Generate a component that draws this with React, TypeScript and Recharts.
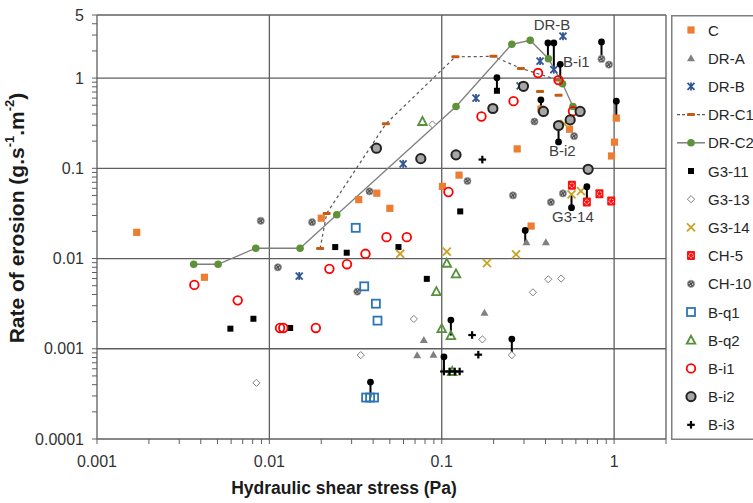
import React from "react";
import {
  ScatterChart,
  Scatter,
  XAxis,
  YAxis,
  ReferenceLine,
  ReferenceDot,
  Label,
} from "recharts";

type Pt = [number, number];

// shear stress (Pa), erosion rate (g/s/m2)
const seriesC: Pt[] = [
  [0.0017, 0.0195], [0.0042, 0.0062], [0.02, 0.028], [0.033, 0.045], [0.042, 0.053],
  [0.05, 0.036], [0.101, 0.063], [0.126, 0.084], [0.274, 0.164], [0.551, 0.271],
  [1.03, 0.36], [1.005, 0.195], [0.966, 0.137], [0.33, 0.0229], [0.376, 0.453],
];
const seriesDRA: Pt[] = [
  [0.0787, 0.00125], [0.072, 0.00085], [0.0895, 0.00086], [0.31, 0.0152], [0.402, 0.0152],
  [0.177, 0.0025],
];
const seriesDRB: Pt[] = [
  [0.0597, 0.112], [0.0149, 0.0064], [0.505, 2.91], [0.372, 1.545], [0.447, 1.24],
  [0.285, 0.82], [0.158, 0.6],
];
const seriesDRC1: Pt[] = [
  [0.0197, 0.0129], [0.0215, 0.0316], [0.0474, 0.311], [0.12, 1.72], [0.1995, 1.74],
  [0.288, 1.28], [0.476, 0.95],
];
const seriesDRC1Extra: Pt[] = [[0.372, 0.71], [0.476, 0.645]];
const seriesDRC2: Pt[] = [
  [0.00364, 0.00864], [0.00504, 0.00864], [0.00834, 0.013], [0.01507, 0.013], [0.0246, 0.0306],
  [0.121, 0.485], [0.255, 2.37], [0.326, 2.62], [0.416, 1.64], [0.502, 0.864], [0.577, 0.485],
];
const seriesG311: Pt[] = [
  [0.00594, 0.00167], [0.00808, 0.00215], [0.0132, 0.0017], [0.0241, 0.0134], [0.0281, 0.0116],
  [0.0561, 0.0134], [0.0819, 0.00595], [0.128, 0.0333], [0.209, 0.723],
];
const seriesG313: Pt[] = [
  [0.00841, 0.000419], [0.0339, 0.00085], [0.0689, 0.00214], [0.0883, 0.306], [0.172, 0.00127],
  [0.255, 0.00085], [0.338, 0.00422], [0.415, 0.00589], [0.493, 0.006],
];
const seriesG314: Pt[] = [
  [0.0574, 0.0113], [0.107, 0.0119], [0.183, 0.0089], [0.27, 0.0111], [0.566, 0.0514],
  [0.642, 0.056], [0.515, 0.31],
];
const seriesCH5: Pt[] = [[0.569, 0.0648], [0.695, 0.0422], [0.822, 0.0523], [0.962, 0.0433]];
const seriesCH10: Pt[] = [
  [0.00891, 0.0262], [0.0112, 0.008], [0.0177, 0.0253], [0.0381, 0.0555], [0.0324, 0.0043],
  [0.141, 0.0723], [0.259, 0.0501], [0.43, 0.0422], [0.505, 0.0527], [0.345, 0.33],
  [0.586, 0.227], [0.845, 1.63], [0.933, 1.41],
];
const seriesBq1: Pt[] = [
  [0.0317, 0.0219], [0.0355, 0.00492], [0.0415, 0.00316], [0.0424, 0.00205],
  [0.0364, 0.000288], [0.0384, 0.000288], [0.0405, 0.000288],
];
const seriesBq2: Pt[] = [
  [0.0773, 0.33], [0.107, 0.00887], [0.121, 0.00676], [0.0931, 0.0043], [0.1, 0.00167],
  [0.113, 0.0014], [0.115, 0.00056],
];
const seriesBi1: Pt[] = [
  [0.00367, 0.0051], [0.00655, 0.00344], [0.01153, 0.0017], [0.01205, 0.0017], [0.0186, 0.0017],
  [0.0223, 0.00769], [0.0282, 0.00865], [0.0361, 0.01128], [0.0478, 0.01725], [0.0627, 0.01725],
  [0.1094, 0.0546], [0.17, 0.375], [0.261, 0.555], [0.362, 1.137], [0.476, 0.95], [0.577, 0.43],
];
const seriesBi2: Pt[] = [
  [0.0418, 0.167], [0.0756, 0.128], [0.121, 0.141], [0.298, 0.81], [0.198, 0.46],
  [0.389, 0.427], [0.556, 0.344], [0.476, 0.298], [0.635, 0.427], [0.707, 0.0975],
];
const seriesBi3: Pt[] = [
  [0.103, 0.00056], [0.111, 0.00056], [0.119, 0.00056], [0.127, 0.00056], [0.15, 0.00142],
  [0.163, 0.00086], [0.172, 0.125],
];

// replicate ranges: x, value at the dot, value at the paired marker
const stems: [number, number, number][] = [
  [0.209, 1.008, 0.723], [0.413, 2.45, 1.64], [0.447, 2.45, 1.24], [0.487, 1.42, 0.95],
  [0.376, 0.574, 0.456], [0.845, 2.51, 1.63], [0.476, 0.196, 0.298], [1.03, 0.555, 0.36],
  [0.695, 0.0626, 0.0422], [0.566, 0.0366, 0.0514], [0.305, 0.0205, 0.0152],
  [0.113, 0.00208, 0.0014], [0.103, 0.000815, 0.00056], [0.0386, 0.000427, 0.000288],
  [0.255, 0.00128, 0.00085],
];

const notes: { text: string; x: number; y: number }[] = [
  { text: "DR-B", x: 0.436, y: 3.88 },
  { text: "B-i1", x: 0.603, y: 1.52 },
  { text: "B-i2", x: 0.5, y: 0.155 },
  { text: "G3-14", x: 0.577, y: 0.029 },
];

const legendNames = [
  "C", "DR-A", "DR-B", "DR-C1", "DR-C2", "G3-11", "G3-13", "G3-14",
  "CH-5", "CH-10", "B-q1", "B-q2", "B-i1", "B-i2", "B-i3",
];

const xMajor = [0.001, 0.01, 0.1, 1];
const yMajor = [0.0001, 0.001, 0.01, 0.1, 1, 5];

const minorTicks = (decades: number[]) =>
  decades.flatMap((d) => [1, 2, 3, 4, 5, 6, 7, 8, 9].map((m) => +(m * d).toPrecision(3)));
const xTicks = [...minorTicks([0.001, 0.01, 0.1]), 1, 2];
const yTicks = [...minorTicks([0.0001, 0.001, 0.01, 0.1]), 1, 2, 3, 4, 5];

const FONT = "'Liberation Sans', Arial, sans-serif";
const GRID = "#5f5f5f";

const toData = (pts: Pt[]) => pts.map(([x, y]) => ({ x, y }));

function Marker({ kind, cx, cy }: { kind: string; cx: number; cy: number }) {
  switch (kind) {
    case "C":
      return <rect x={cx - 3.6} y={cy - 3.6} width={7.2} height={7.2} fill="#ED7D31" />;
    case "DR-A":
      return <path d={`M${cx},${cy - 4} L${cx + 4},${cy + 3} L${cx - 4},${cy + 3} Z`} fill="#808080" />;
    case "DR-B":
      return (
        <g stroke="#2F5597" strokeWidth={1.8}>
          <line x1={cx - 3.5} y1={cy - 3.5} x2={cx + 3.5} y2={cy + 3.5} />
          <line x1={cx + 3.5} y1={cy - 3.5} x2={cx - 3.5} y2={cy + 3.5} />
          <line x1={cx} y1={cy - 4} x2={cx} y2={cy + 4} />
        </g>
      );
    case "DR-C1":
      return <rect x={cx - 4} y={cy - 1.5} width={8} height={3} rx={1} fill="#C55A11" />;
    case "DR-C2":
      return <circle cx={cx} cy={cy} r={3.8} fill="#5E9238" />;
    case "G3-11":
      return <rect x={cx - 3} y={cy - 3} width={6} height={6} fill="#000" />;
    case "G3-13":
      return (
        <path
          d={`M${cx},${cy - 3.6} L${cx + 3.6},${cy} L${cx},${cy + 3.6} L${cx - 3.6},${cy} Z`}
          fill="#fff"
          stroke="#808080"
          strokeWidth={1}
        />
      );
    case "G3-14":
      return (
        <g stroke="#C9A227" strokeWidth={1.8}>
          <line x1={cx - 4} y1={cy - 4} x2={cx + 4} y2={cy + 4} />
          <line x1={cx + 4} y1={cy - 4} x2={cx - 4} y2={cy + 4} />
        </g>
      );
    case "CH-5":
      return (
        <g>
          <rect x={cx - 4} y={cy - 4.5} width={8} height={9} rx={1} fill="#FF1010" />
          <circle cx={cx} cy={cy} r={2.2} fill="none" stroke="#fff" strokeWidth={1} strokeDasharray="1.5 1" />
        </g>
      );
    case "CH-10":
      return (
        <g>
          <circle cx={cx} cy={cy} r={3.6} fill="#505050" stroke="#a0a0a0" strokeWidth={0.8} />
          <circle cx={cx} cy={cy} r={1.8} fill="none" stroke="#fff" strokeWidth={0.9} strokeDasharray="1.2 1.2" />
        </g>
      );
    case "B-q1":
      return <rect x={cx - 4} y={cy - 4} width={8} height={8} fill="none" stroke="#2E75B6" strokeWidth={1.8} />;
    case "B-q2":
      return (
        <path
          d={`M${cx},${cy - 4.5} L${cx + 4.3},${cy + 3.5} L${cx - 4.3},${cy + 3.5} Z`}
          fill="none"
          stroke="#55913A"
          strokeWidth={1.8}
        />
      );
    case "B-i1":
      return <circle cx={cx} cy={cy} r={4.3} fill="none" stroke="#FF0000" strokeWidth={1.8} />;
    case "B-i2":
      return <circle cx={cx} cy={cy} r={4.6} fill="#A6A6A6" stroke="#222" strokeWidth={2} />;
    case "B-i3":
      return (
        <g stroke="#000" strokeWidth={2.2}>
          <line x1={cx - 3.8} y1={cy} x2={cx + 3.8} y2={cy} />
          <line x1={cx} y1={cy - 3.8} x2={cx} y2={cy + 3.8} />
        </g>
      );
    case "stem":
      return <circle cx={cx} cy={cy} r={3.4} fill="#000" />;
    default:
      return null;
  }
}

const shapeFor = (kind: string) => (p: any) => <Marker kind={kind} cx={p.cx} cy={p.cy} />;

const plotted: { name: string; data: Pt[] }[] = [
  { name: "C", data: seriesC },
  { name: "DR-A", data: seriesDRA },
  { name: "DR-B", data: seriesDRB },
  { name: "G3-11", data: seriesG311 },
  { name: "G3-13", data: seriesG313 },
  { name: "G3-14", data: seriesG314 },
  { name: "CH-5", data: seriesCH5 },
  { name: "CH-10", data: seriesCH10 },
  { name: "B-q1", data: seriesBq1 },
  { name: "B-q2", data: seriesBq2 },
  { name: "B-i1", data: seriesBi1 },
  { name: "B-i2", data: seriesBi2 },
  { name: "B-i3", data: seriesBi3 },
];

function LegendBox() {
  return (
    <svg
      width={82}
      height={430}
      style={{ position: "absolute", left: 671, top: 15, overflow: "hidden" }}
    >
      <rect x={0.75} y={0.75} width={120} height={423.5} fill="#fff" stroke="#7f7f7f" strokeWidth={1.5} />
      {legendNames.map((name, i) => {
        const cy = 15 + i * 28.2;
        return (
          <g key={name}>
            {name === "DR-C1" && (
              <line x1={6} x2={34} y1={cy} y2={cy} stroke="#595959" strokeWidth={1.2} strokeDasharray="3 2" />
            )}
            {name === "DR-C2" && <line x1={6} x2={34} y1={cy} y2={cy} stroke="#7f7f7f" strokeWidth={1.5} />}
            <Marker kind={name} cx={20} cy={cy} />
            <text x={37} y={cy} dominantBaseline="central" fontSize={15} fontFamily={FONT} fill="#262626">
              {name}
            </text>
          </g>
        );
      })}
    </svg>
  );
}

export default function App() {
  const tickStyle = { fontSize: 16, fill: "#333", fontFamily: FONT };
  return (
    <div style={{ position: "absolute", left: 0, top: 0, width: 753, height: 503, background: "#fff" }}>
      <ScatterChart width={753} height={503} margin={{ top: 15, right: 87, bottom: 0, left: 0 }}>
        <XAxis
          type="number"
          dataKey="x"
          scale="log"
          domain={[0.001, 2]}
          allowDataOverflow
          ticks={xTicks}
          interval={0}
          tickFormatter={(v: number) => (xMajor.includes(v) ? String(v) : "")}
          tick={tickStyle}
          tickSize={5}
          tickMargin={12}
          height={64}
          stroke={GRID}
          axisLine={{ stroke: GRID, strokeWidth: 1.3 }}
          tickLine={{ stroke: GRID }}
        >
          <Label
            content={() => (
              <text x={344} y={494} textAnchor="middle" fontSize={17.5} fontWeight="bold" fontFamily={FONT} fill="#1a1a1a">
                Hydraulic shear stress (Pa)
              </text>
            )}
          />
        </XAxis>
        <YAxis
          type="number"
          dataKey="y"
          scale="log"
          domain={[0.0001, 5]}
          allowDataOverflow
          ticks={yTicks}
          interval={0}
          tickFormatter={(v: number) => (yMajor.includes(v) ? String(v) : "")}
          tick={tickStyle}
          tickSize={5}
          tickMargin={8}
          width={97}
          stroke={GRID}
          axisLine={{ stroke: GRID, strokeWidth: 1.3 }}
          tickLine={{ stroke: GRID }}
        >
          <Label
            content={() => (
              <text
                x={16}
                y={218}
                transform="rotate(-90 16 218)"
                textAnchor="middle"
                dominantBaseline="central"
                fontSize={21}
                fontWeight="bold"
                fontFamily={FONT}
                fill="#1a1a1a"
              >
                Rate of erosion (g.s
                <tspan fontSize={13} dy={-7}>-1</tspan>
                <tspan dy={7}>.m</tspan>
                <tspan fontSize={13} dy={-7}>-2</tspan>
                <tspan dy={7}>)</tspan>
              </text>
            )}
          />
        </YAxis>

        {/* decade grid and plot frame */}
        {[0.01, 0.1, 1, 2].map((v) => (
          <ReferenceLine key={"gx" + v} x={v} stroke={GRID} strokeWidth={1.3} />
        ))}
        {[0.001, 0.01, 0.1, 1, 5].map((v) => (
          <ReferenceLine key={"gy" + v} y={v} stroke={GRID} strokeWidth={1.3} />
        ))}

        <Scatter
          name="DR-C1"
          data={toData(seriesDRC1)}
          line={{ stroke: "#595959", strokeWidth: 1.2, strokeDasharray: "3 3" }}
          lineType="joint"
          shape={shapeFor("DR-C1")}
          isAnimationActive={false}
        />
        <Scatter name="DR-C1 extra" data={toData(seriesDRC1Extra)} shape={shapeFor("DR-C1")} isAnimationActive={false} />
        <Scatter
          name="DR-C2"
          data={toData(seriesDRC2)}
          line={{ stroke: "#7f7f7f", strokeWidth: 1.3 }}
          lineType="joint"
          shape={shapeFor("DR-C2")}
          isAnimationActive={false}
        />
        {plotted.map((s) => (
          <Scatter key={s.name} name={s.name} data={toData(s.data)} shape={shapeFor(s.name)} isAnimationActive={false} />
        ))}

        {stems.map(([x, y1, y2], i) => (
          <ReferenceLine
            key={"st" + i}
            segment={[{ x, y: y1 }, { x, y: y2 }]}
            stroke="#000"
            strokeWidth={2}
          />
        ))}
        <Scatter
          name="range"
          data={stems.map(([x, y]) => ({ x, y }))}
          shape={shapeFor("stem")}
          isAnimationActive={false}
        />

        {notes.map((n) => (
          <ReferenceDot
            key={n.text}
            x={n.x}
            y={n.y}
            r={0}
            fill="none"
            stroke="none"
            label={{ value: n.text, position: "center", fontSize: 15, fill: "#404040", fontFamily: FONT }}
          />
        ))}
      </ScatterChart>
      <LegendBox />
    </div>
  );
}
